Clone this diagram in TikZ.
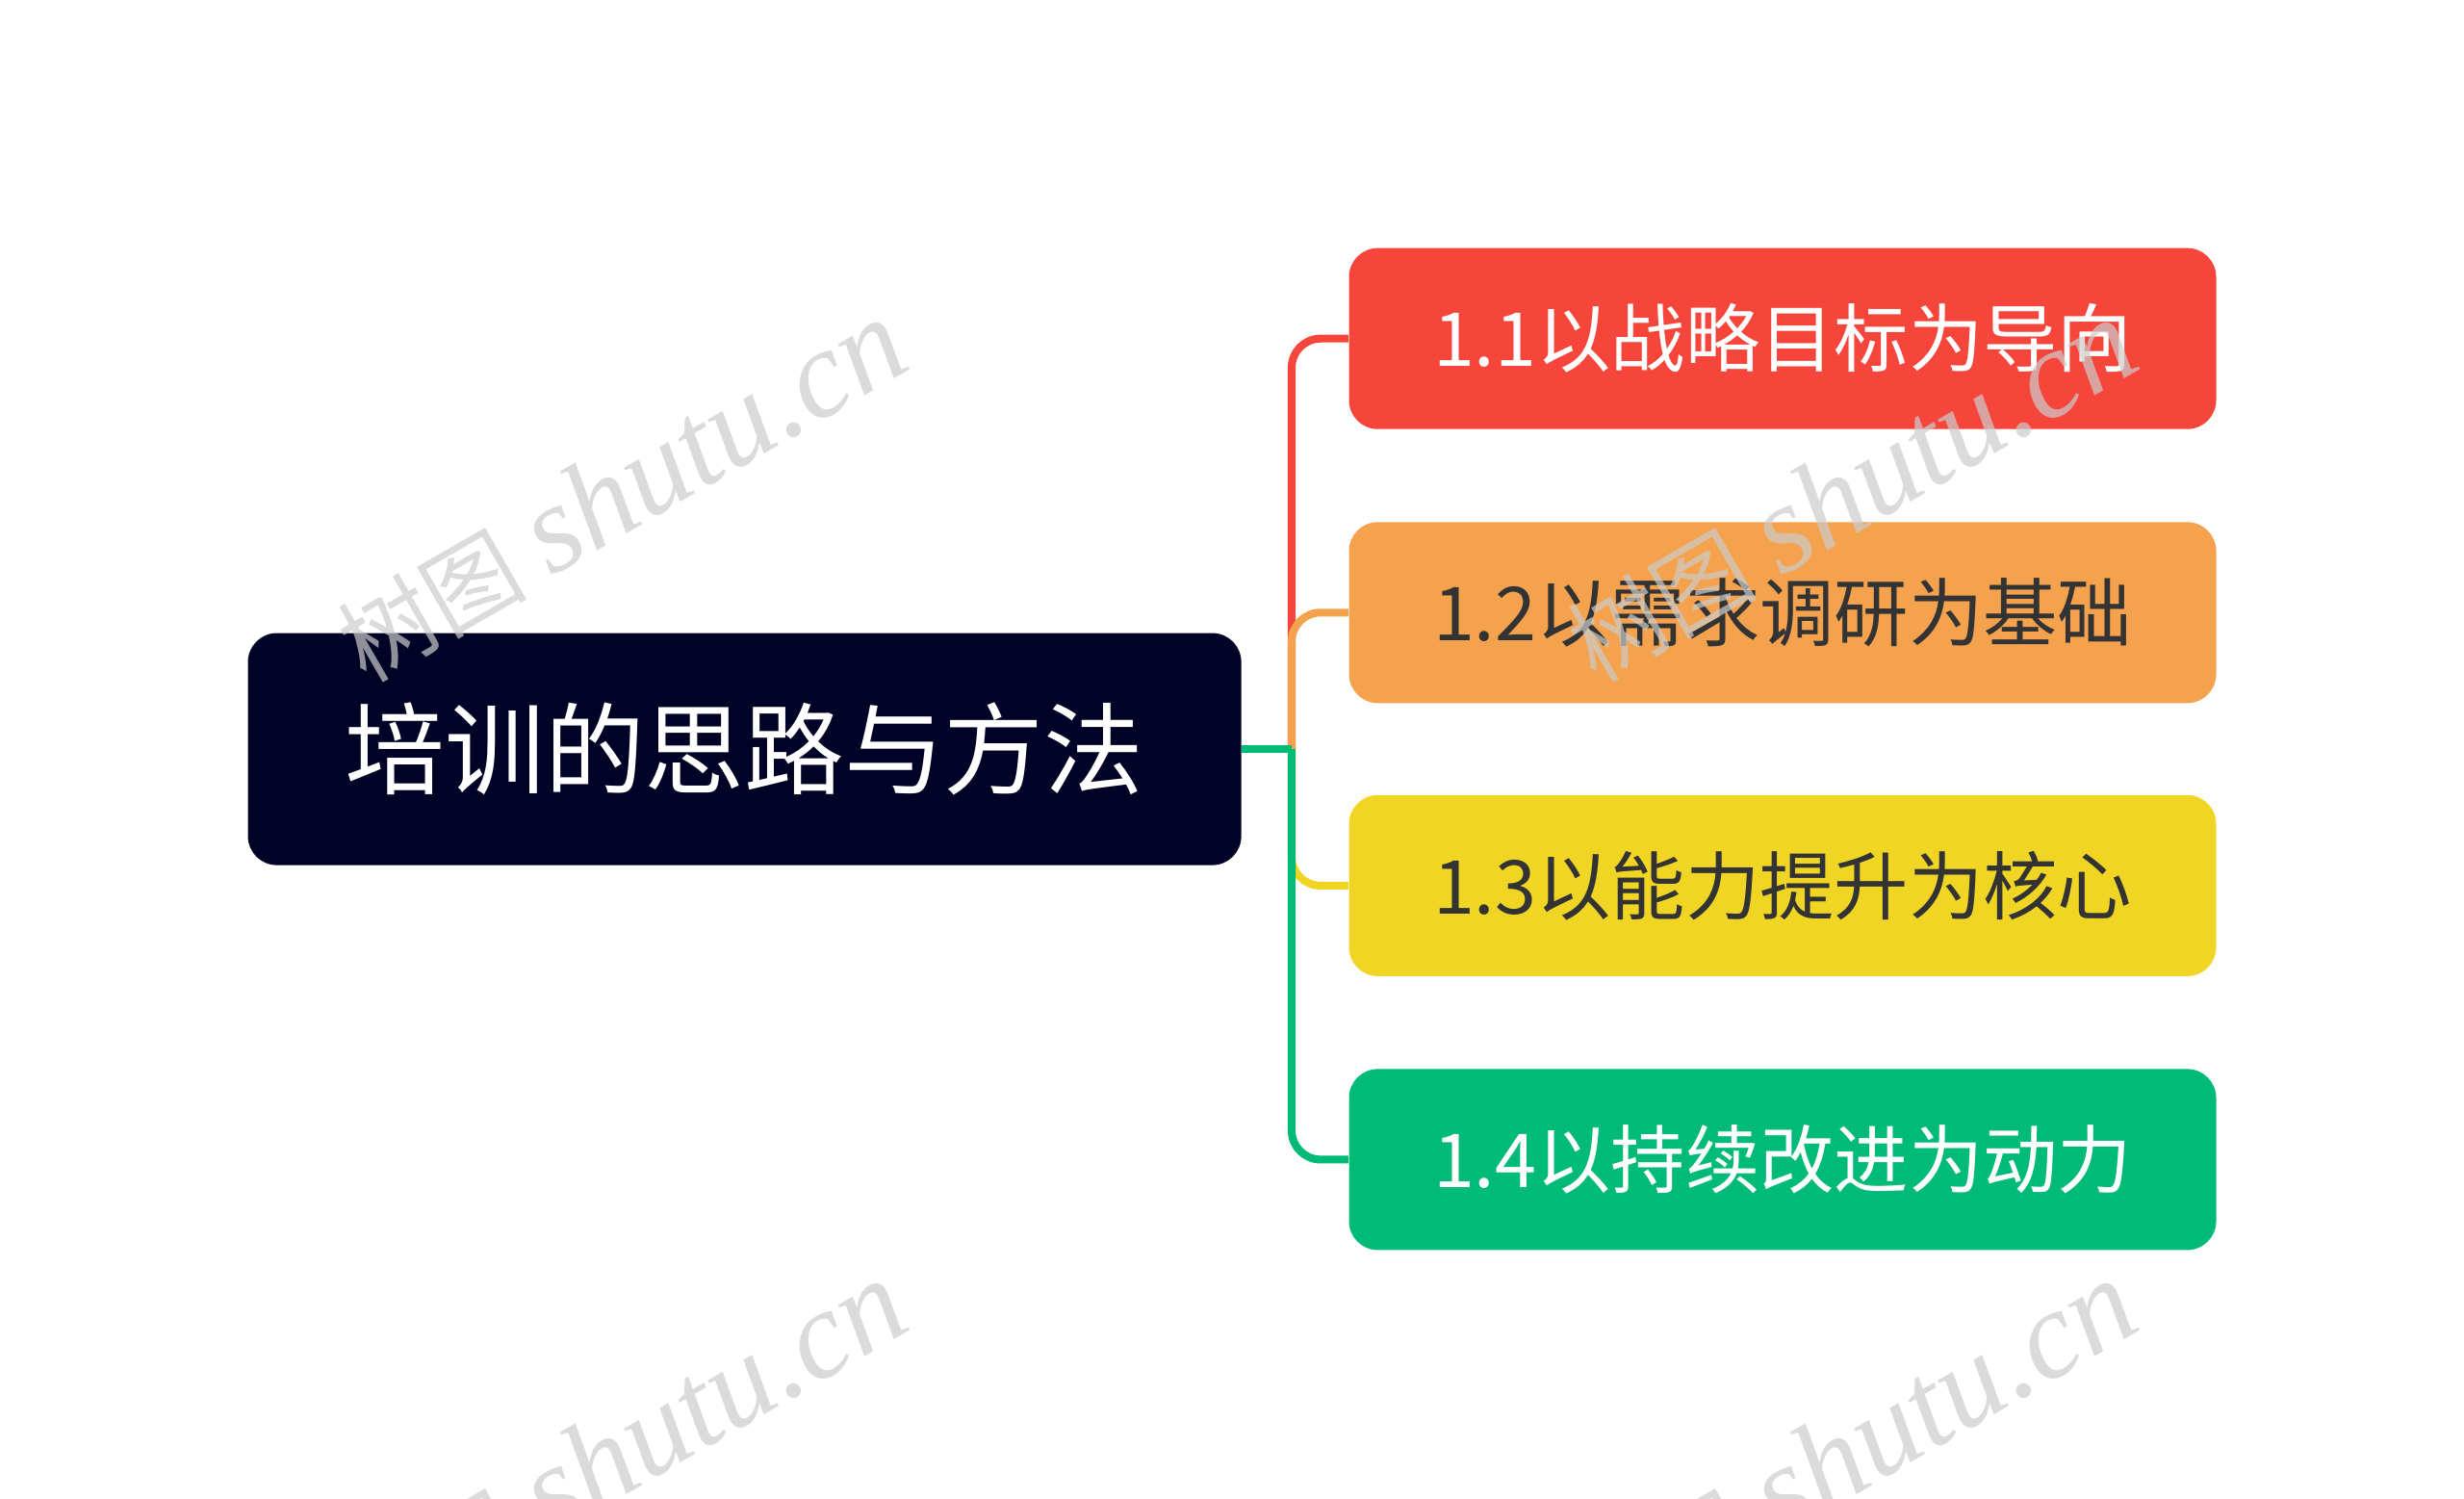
\documentclass[tikz,border=0pt]{standalone}
\usepackage{fontspec}
\usepackage{tikz}
\usetikzlibrary{positioning}
\usepackage{xcolor}
\newfontfamily\cjk{Noto Sans CJK SC}
\newfontfamily\wmfont{Liberation Serif}

\definecolor{rootbg}{HTML}{000325}
\definecolor{zred}{HTML}{F6463C}
\definecolor{zorange}{HTML}{F4A24D}
\definecolor{zyellow}{HTML}{F0D525}
\definecolor{zgreen}{HTML}{00BA78}
\definecolor{ztext}{HTML}{333333}

% 水印文字
\newcommand{\wmark}{{\cjk\fontsize{28}{30}\selectfont 树图}\hspace{7pt}{\wmfont\itshape\fontsize{37}{40}\selectfont shutu.cn}}

\begin{document}
\begin{tikzpicture}[
    rootbox/.style={fill=rootbg, rounded corners=0.3cm, minimum width=10.32cm, minimum height=2.41cm,
        text=white, font=\cjk\fontsize{29.5}{32}\selectfont},
    subbox/.style={rounded corners=0.3cm, minimum width=9.01cm, minimum height=1.88cm,
        font=\cjk\fontsize{22}{24}\selectfont},
    branch/.style={line width=2.3pt, rounded corners=0.3cm},
    wmtext/.style={text=black!20, opacity=0.7, rotate=30}
]
    % 画布大小
    \useasboundingbox (0,0) rectangle (25.6,-15.57);

    % 中心主题
    \node[rootbox] (root) at (7.736,-7.781) {培训的思路与方法};

    % 四个分支主题
    \node[subbox, fill=zred, text=white]    (s1) at (18.52,-3.517)  {1.1以战略目标为导向};
    \node[subbox, fill=zorange, text=ztext] (s2) at (18.52,-6.363)  {1.2以需求调研为基础};
    \node[subbox, fill=zyellow, text=ztext] (s3) at (18.52,-9.199)  {1.3以能力提升为核心};
    \node[subbox, fill=zgreen, text=white]  (s4) at (18.52,-12.044) {1.4以持续改进为动力};

    % 连线
    \coordinate (jc) at (13.42,-7.781);
    \draw[branch, zred]    (jc) |- (s1.west);
    \draw[branch, zorange] (jc) |- (s2.west);
    \draw[branch, zyellow] (jc) |- (s3.west);
    \draw[branch, zgreen]  (jc) |- (s4.west);
    \draw[branch, zgreen]  (root.east) -- (jc);

    % 水印
    \node[wmtext] (wm1) at (6.45,-5.1) {\wmark};
    \node[wmtext] (wm2) at (19.23,-5.1) {\wmark};
    \node[wmtext] (wm3) at (6.45,-15.08) {\wmark};
    \node[wmtext] (wm4) at (19.23,-15.08) {\wmark};
\end{tikzpicture}
\end{document}
